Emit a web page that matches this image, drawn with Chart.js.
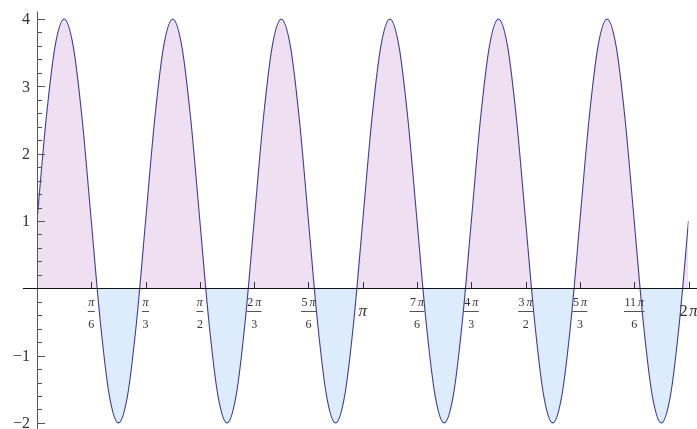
<!DOCTYPE html>
<html>
<head>
<meta charset="utf-8">
<script src="https://cdn.jsdelivr.net/npm/chart.js@4"></script>
<style>
html,body{margin:0;padding:0;background:#fff;}
#wrap{width:697px;height:429px;position:relative;}
</style>
</head>
<body>
<div id="wrap"><canvas id="c"></canvas></div>
<script>
// x positions in degrees (0..360 = 0..2π)
const xDeg = [0,5,10,15,20,25,30,35,40,45,50,55,60,65,70,75,80,85,90,95,100,105,110,115,120,125,130,135,140,145,150,155,160,165,170,175,180,185,190,195,200,205,210,215,220,225,230,235,240,245,250,255,260,265,270,275,280,285,290,295,300,305,310,315,320,325,330,335,340,345,350,355,360];
// curve values
const yVals = [
  1, 2.5, 3.598, 4, 3.598, 2.5, 1, -0.5, -1.598, -2, -1.598, -0.5,
  1, 2.5, 3.598, 4, 3.598, 2.5, 1, -0.5, -1.598, -2, -1.598, -0.5,
  1, 2.5, 3.598, 4, 3.598, 2.5, 1, -0.5, -1.598, -2, -1.598, -0.5,
  1, 2.5, 3.598, 4, 3.598, 2.5, 1, -0.5, -1.598, -2, -1.598, -0.5,
  1, 2.5, 3.598, 4, 3.598, 2.5, 1, -0.5, -1.598, -2, -1.598, -0.5,
  1, 2.5, 3.598, 4, 3.598, 2.5, 1, -0.5, -1.598, -2, -1.598, -0.5,
  1
];
// tick labels
const yTickValues = [-2, -1, 1, 2, 3, 4];
const yTickLabels = ['\u22122', '\u22121', '1', '2', '3', '4'];
const xTickDeg = [30, 60, 90, 120, 150, 180, 210, 240, 270, 300, 330, 360];
const xTickCoef = ['', '', '', '2', '5', '', '7', '4', '3', '5', '11', '2'];
const xTickDen  = ['6', '3', '2', '3', '6', '', '6', '3', '2', '3', '6', ''];

const SERIF = '"Liberation Serif", "DejaVu Serif", serif';

const axesPlugin = {
  id: 'mmaAxes',
  afterDatasetsDraw(chart) {
    const ctx = chart.ctx;
    const xs = chart.scales.x, ys = chart.scales.y;
    const x0 = xs.getPixelForValue(0);
    const y0 = ys.getPixelForValue(0);
    ctx.save();
    ctx.lineWidth = 1;
    // y axis
    ctx.strokeStyle = '#555';
    ctx.beginPath();
    ctx.moveTo(Math.round(x0) + 0.5, 11.5);
    ctx.lineTo(Math.round(x0) + 0.5, 429);
    ctx.stroke();
    // y ticks (major every 1, minor every 0.2)
    for (let i = -10; i <= 20; i++) {
      const v = i / 5;
      const py = Math.round(ys.getPixelForValue(v)) + 0.5;
      if (py > 429 || py < 0) continue;
      const major = (i % 5 === 0);
      ctx.beginPath();
      ctx.moveTo(Math.round(x0), py);
      ctx.lineTo(Math.round(x0) + (major ? 8 : 5), py);
      ctx.stroke();
    }
    // x axis
    ctx.strokeStyle = '#111';
    ctx.beginPath();
    ctx.moveTo(23, Math.round(y0) + 0.5);
    ctx.lineTo(697, Math.round(y0) + 0.5);
    ctx.stroke();
    // x ticks
    ctx.strokeStyle = '#333';
    xTickDeg.forEach(d => {
      const px = Math.round(xs.getPixelForValue(d)) + 0.5;
      ctx.beginPath();
      ctx.moveTo(px, Math.round(y0) - 6);
      ctx.lineTo(px, Math.round(y0));
      ctx.stroke();
    });
    // y labels
    ctx.fillStyle = '#333';
    ctx.font = '16px ' + SERIF;
    ctx.textAlign = 'right';
    ctx.textBaseline = 'middle';
    yTickValues.forEach((v, i) => {
      ctx.fillText(yTickLabels[i], 30, ys.getPixelForValue(v) + 1);
    });
    // x labels
    ctx.textBaseline = 'middle';
    ctx.textAlign = 'left';
    xTickDeg.forEach((d, i) => {
      const px = xs.getPixelForValue(d);
      const coef = xTickCoef[i], den = xTickDen[i];
      if (den === '') {
        // big single-line label
        const fUp = '17px ' + SERIF, fIt = 'italic 17px ' + SERIF;
        ctx.font = fUp;
        const cw = coef ? ctx.measureText(coef + ' ').width * 0.8 : 0;
        ctx.font = fIt;
        const pw = ctx.measureText('\u03c0').width;
        let sx = px - (cw + pw) / 2;
        const cy = 312;
        if (coef) { ctx.font = fUp; ctx.fillText(coef, sx, cy); }
        ctx.font = fIt; ctx.fillText('\u03c0', sx + cw, cy);
      } else {
        const fUp = '12px ' + SERIF, fIt = 'italic 12px ' + SERIF;
        ctx.font = fUp;
        const cw = coef ? ctx.measureText(coef).width + 2 : 0;
        ctx.font = fIt;
        const pw = ctx.measureText('\u03c0').width;
        const numW = cw + pw;
        ctx.font = fUp;
        const denW = ctx.measureText(den).width;
        const barW = Math.max(numW, denW) + 1;
        const ny = 302.5;
        let sx = px - numW / 2;
        if (coef) { ctx.font = fUp; ctx.fillText(coef, sx, ny); }
        ctx.font = fIt; ctx.fillText('\u03c0', sx + cw, ny);
        // fraction bar
        ctx.strokeStyle = '#555';
        ctx.beginPath();
        ctx.moveTo(px - barW / 2, 311.5);
        ctx.lineTo(px + barW / 2, 311.5);
        ctx.stroke();
        ctx.font = fUp;
        ctx.textAlign = 'center';
        ctx.fillText(den, px, 324.5);
        ctx.textAlign = 'left';
      }
    });
    ctx.restore();
  }
};

new Chart(document.getElementById('c'), {
  type: 'line',
  data: {
    labels: xDeg,
    datasets: [{
      data: yVals,
      borderColor: '#3d3d9a',
      borderWidth: 1.1,
      pointRadius: 0,
      cubicInterpolationMode: 'monotone',
      fill: { target: 'origin', above: '#eee0f0', below: '#dcecfc' }
    }]
  },
  options: {
    responsive: true,
    maintainAspectRatio: false,
    animation: false,
    events: [],
    layout: { padding: { left: 37, right: 8.5, top: 12.3, bottom: 0.7 } },
    plugins: { legend: { display: false }, tooltip: { enabled: false } },
    scales: {
      x: { type: 'linear', min: 0, max: 360, display: false },
      y: { type: 'linear', min: -2.08, max: 4.1, display: false }
    }
  },
  plugins: [axesPlugin]
});
</script>
</body>
</html>
